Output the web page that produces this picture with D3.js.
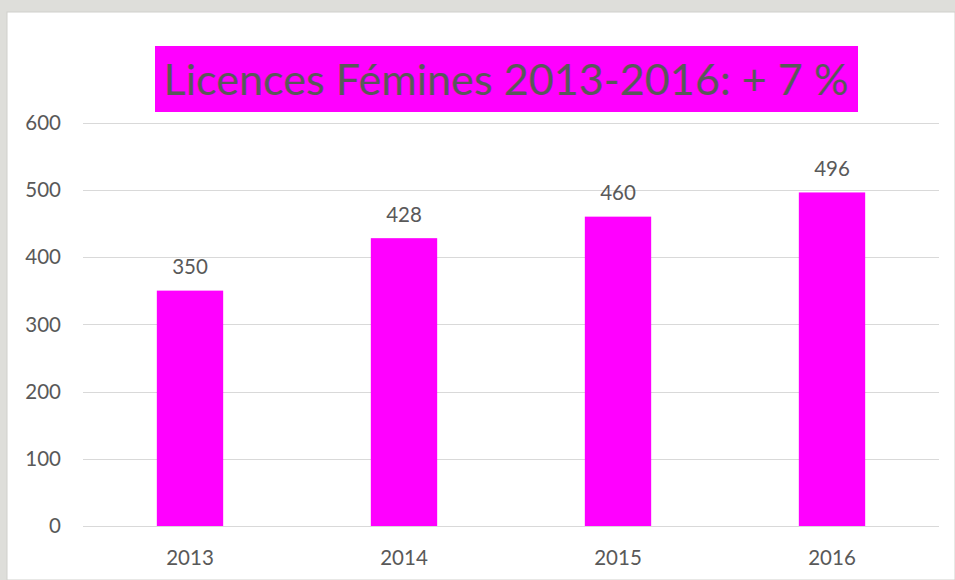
<!DOCTYPE html>
<html>
<head>
<meta charset="utf-8">
<style>
  html, body { margin: 0; padding: 0; background: #dededa; }
  svg { display: block; }
  .tick-label { font-family: Lato, 'Open Sans', sans-serif; fill: #595959; }
</style>
</head>
<body>
<svg width="955" height="580"></svg>
<script src="https://d3js.org/d3.v7.min.js"></script>
<script>
  // chart values
  const years = ["2013", "2014", "2015", "2016"];
  const licences = [350, 428, 460, 496];
  const yTicks = [0, 100, 200, 300, 400, 500, 600];
  const title = "Licences Fémines 2013-2016: + 7 %";

  const width = 955, height = 580;
  const svg = d3.select("svg");

  // white panel over the grey window background
  svg.append("rect")
    .attr("x", 7).attr("y", 12)
    .attr("width", width - 7).attr("height", height - 12)
    .attr("fill", "#fff")
    .attr("stroke", "#d0d0cc")
    .attr("stroke-width", 1);

  let x = d3.scaleBand()
    .domain(years)
    .range([83, 939])
    .paddingInner(0.69)
    .paddingOuter(0.345);

  let y = d3.scaleLinear()
    .domain([0, 600])
    .range([526, 122.5]);

  // gridlines
  svg.append("g")
    .selectAll("line")
    .data(yTicks)
    .join("line")
    .attr("x1", 83).attr("x2", 939)
    .attr("y1", d => Math.round(y(d)) + 0.5)
    .attr("y2", d => Math.round(y(d)) + 0.5)
    .attr("stroke", "#d9d9d9")
    .attr("stroke-width", 1);

  // y labels
  svg.append("g")
    .selectAll("text")
    .data(yTicks)
    .join("text")
    .attr("class", "tick-label")
    .attr("x", 61)
    .attr("y", d => y(d))
    .attr("dy", "0.36em")
    .attr("text-anchor", "end")
    .style("font-size", "20.5px")
    .text(d => d);

  // bars
  svg.append("g")
    .selectAll("rect")
    .data(licences)
    .join("rect")
    .attr("x", (d, i) => x(years[i]))
    .attr("width", x.bandwidth())
    .attr("y", d => y(d))
    .attr("height", d => y(0) - y(d))
    .attr("fill", "#ff00ff");

  // value labels
  svg.append("g")
    .selectAll("text")
    .data(licences)
    .join("text")
    .attr("class", "tick-label")
    .attr("x", (d, i) => x(years[i]) + x.bandwidth() / 2)
    .attr("y", d => y(d) - 16.5)
    .attr("text-anchor", "middle")
    .style("font-size", "20.5px")
    .text(d => d);

  // x labels
  svg.append("g")
    .selectAll("text")
    .data(years)
    .join("text")
    .attr("class", "tick-label")
    .attr("x", d => x(d) + x.bandwidth() / 2)
    .attr("y", 565)
    .attr("text-anchor", "middle")
    .style("font-size", "20.5px")
    .text(d => d);

  // title box
  svg.append("rect")
    .attr("x", 155).attr("y", 46)
    .attr("width", 703).attr("height", 66)
    .attr("fill", "#ff00ff");

  svg.append("text")
    .attr("x", 506)
    .attr("y", 95)
    .attr("text-anchor", "middle")
    .attr("textLength", 685)
    .attr("lengthAdjust", "spacingAndGlyphs")
    .style("font-family", "Lato, 'Open Sans', sans-serif")
    .style("font-size", "43px")
    .style("fill", "#595959")
    .text(title);
</script>
</body>
</html>
